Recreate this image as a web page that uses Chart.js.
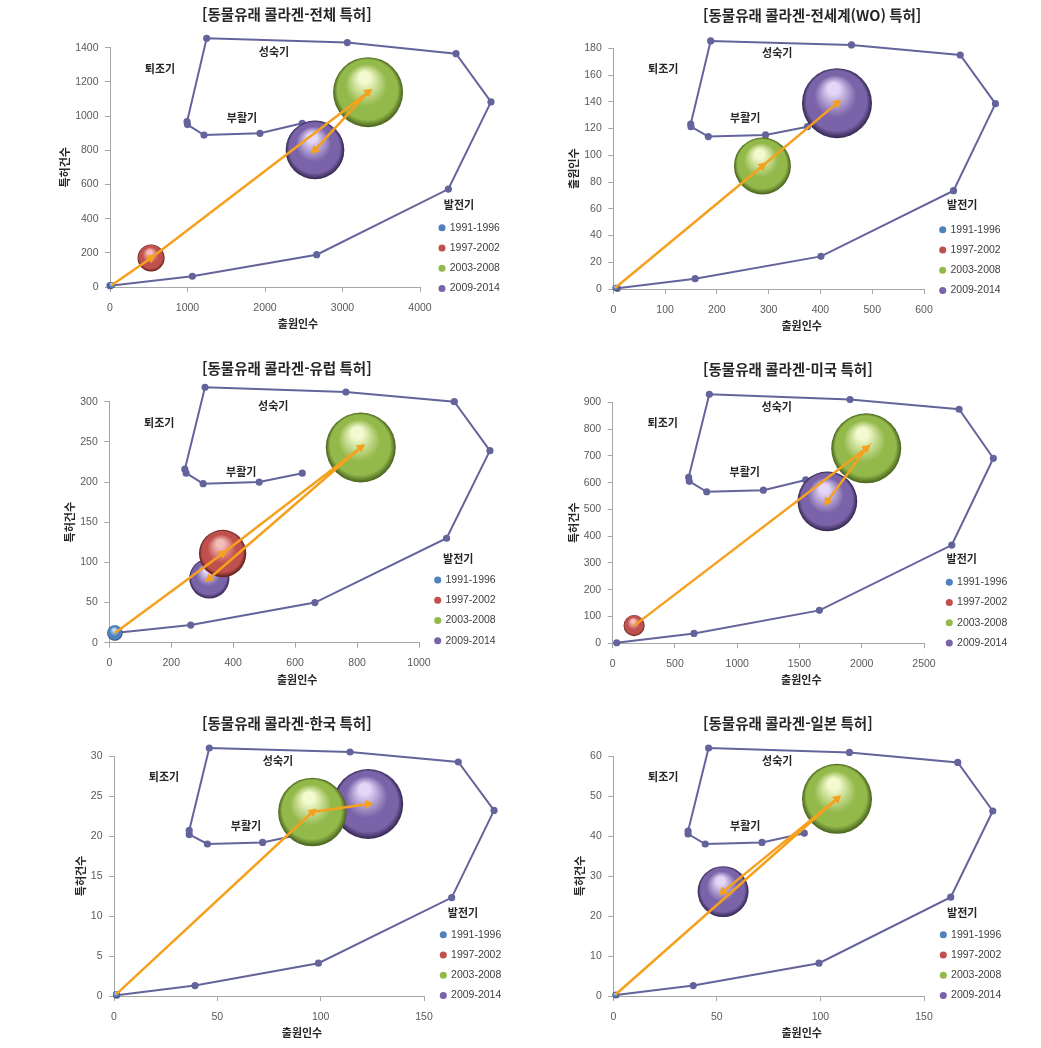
<!DOCTYPE html>
<html lang="ko">
<head>
<meta charset="utf-8">
<title>동물유래 콜라겐 특허 성장단계</title>
<script src="https://cdn.jsdelivr.net/npm/chart.js@4.4.1/dist/chart.umd.min.js"></script>
<style>
  body { margin: 0; background: #fff; }
  #page { position: relative; width: 1041px; height: 1048px; overflow: hidden; }
  .panel { position: absolute; }
</style>
</head>
<body>
<div id="page"></div>
<script>
// --- Data ---
const periods = ['1991-1996', '1997-2002', '2003-2008', '2009-2014'];

// 출원인수 (x) / 특허건수 (y) per period, bubble size follows y
const totalX = [20, 530, 3330, 2645];
const totalY = [10, 170, 1140, 802];
const woX = [4, 0, 288, 432];
const woY = [1, 0, 92, 139];
const euX = [18, 366, 812, 323];
const euY = [12, 111, 243, 80];
const usX = [0, 172, 2036, 1724];
const usY = [0, 66, 728, 530];
const krX = [1, 0, 96, 123];
const krY = [0.2, 0, 23, 24];
const jpX = [1, 0, 108, 53];
const jpY = [0.3, 0, 49.3, 26.1];

// technology life-cycle outline in each panel's units
const totalCycleX = [0, 1062, 2667, 4366, 4916, 4465, 3062, 1247, 994, 1000, 1213, 1935, 2481];
const totalCycleY = [8, 63, 189, 573, 1083, 1365, 1430, 1455, 967, 950, 889, 899, 958];
const woCycleX = [8, 158, 401, 657, 738, 670, 460, 188, 149.5, 150, 183.5, 294, 375];
const woCycleY = [0.5, 7.7, 24.4, 73.5, 138.6, 175, 182.5, 185.5, 123.4, 121.4, 114, 115.2, 121.4];
const euCycleX = [18, 263, 664, 1089, 1229, 1114, 764, 309, 244, 248, 303, 484, 623];
const euCycleY = [12, 22, 50, 130, 239, 300, 312, 318, 216, 211, 198, 200, 211];
const usCycleX = [32, 653, 1660, 2723, 3057, 2782, 1906, 776, 610, 615, 755, 1210, 1550];
const usCycleY = [2, 37, 123, 367, 691, 874, 910, 930, 620, 605, 566, 572, 610];
const krCycleX = [1.3, 39.2, 98.9, 163.4, 183.9, 166.6, 114.2, 46.1, 36.4, 36.4, 45.2, 71.9, 92.4];
const krCycleY = [0.1, 1.3, 4.1, 12.3, 23.2, 29.25, 30.5, 31, 20.7, 20.2, 19, 19.2, 20.3];
const jpCycleX = [1.3, 38.6, 99.3, 162.9, 183.2, 166.3, 114, 46, 36.1, 36.1, 44.4, 71.8, 92.2];
const jpCycleY = [0.25, 2.6, 8.2, 24.7, 46.25, 58.4, 60.9, 62, 41.25, 40.5, 38, 38.4, 40.7];

const stageNames = ['퇴조기', '성숙기', '부활기', '발전기'];

const panels = [
  { title: '[동물유래 콜라겐-전체 특허]', yTitle: '특허건수', x: totalX, y: totalY, cx: totalCycleX, cy: totalCycleY, xMax: 4000, xStep: 1000, yMax: 1400, yStep: 200 },
  { title: '[동물유래 콜라겐-전세계(WO) 특허]', yTitle: '출원인수', x: woX, y: woY, cx: woCycleX, cy: woCycleY, xMax: 600, xStep: 100, yMax: 180, yStep: 20 },
  { title: '[동물유래 콜라겐-유럽 특허]', yTitle: '특허건수', x: euX, y: euY, cx: euCycleX, cy: euCycleY, xMax: 1000, xStep: 200, yMax: 300, yStep: 50 },
  { title: '[동물유래 콜라겐-미국 특허]', yTitle: '특허건수', x: usX, y: usY, cx: usCycleX, cy: usCycleY, xMax: 2500, xStep: 500, yMax: 900, yStep: 100 },
  { title: '[동물유래 콜라겐-한국 특허]', yTitle: '특허건수', x: krX, y: krY, cx: krCycleX, cy: krCycleY, xMax: 150, xStep: 50, yMax: 30, yStep: 5 },
  { title: '[동물유래 콜라겐-일본 특허]', yTitle: '특허건수', x: jpX, y: jpY, cx: jpCycleX, cy: jpCycleY, xMax: 150, xStep: 50, yMax: 60, yStep: 10 }
];

// --- Layout (page pixels) ---
const W = 480, H = 345;
const boxes = [
  { left: 40,  top: 0,   l: 110,   r: 420, t: 47.7,  b: 287,   dotX: 442,   firstY: 227.7, titleX: 202 },
  { left: 540, top: 0,   l: 613.3, r: 924, t: 48.3,  b: 289,   dotX: 942.7, firstY: 229.7, titleX: 703 },
  { left: 40,  top: 350, l: 109.3, r: 419, t: 401.7, b: 642.7, dotX: 437.7, firstY: 580,   titleX: 202 },
  { left: 540, top: 350, l: 612.7, r: 924, t: 402.3, b: 643.3, dotX: 949.3, firstY: 582.3, titleX: 703 },
  { left: 40,  top: 700, l: 114,   r: 424, t: 756,   b: 996,   dotX: 443.3, firstY: 934.7, titleX: 202 },
  { left: 540, top: 700, l: 613.3, r: 924, t: 756,   b: 996,   dotX: 943.3, firstY: 934.7, titleX: 703 }
];
const stageOffsets = [[50, 21], [164, 4.5], [132, 70], [349, 157]];

const KFONT = '"Noto Sans CJK KR", "Noto Sans", sans-serif';
const NFONT = '"Liberation Sans", Arial, sans-serif';
const LEG_FONT = 10.5, LEG_PAD = 9.75, LEG_W = 70;
const R_MAX = 35;
const CYCLE_COLOR = '#64649C';
const ARROW_COLOR = '#F5A11E';
const spheres = [
  { light: '#C4DBF5', base: '#4F81BD', dark: '#1F3B63' },
  { light: '#F5BDBA', base: '#C0504D', dark: '#5A1C1A' },
  { light: '#F4FAD0', base: '#93B94A', dark: '#46601C' },
  { light: '#E3D6F7', base: '#7A63A8', dark: '#33254F' }
];

// 3D-looking bubble fill
const sphereFill = (c) => (ctx) => {
    if (ctx.type !== 'data' || !ctx.raw || !ctx.raw.r) return c.base;
    const { x: sx, y: sy } = ctx.chart.scales;
    if (!sx || !sy) return c.base;
    const px = sx.getPixelForValue(ctx.raw.x);
    const py = sy.getPixelForValue(ctx.raw.y);
    const r = ctx.raw.r;
    if (![px, py, r].every(Number.isFinite)) return c.base;
    const g = ctx.chart.ctx.createRadialGradient(px - r * 0.12, py - r * 0.5, 0, px, py, r);
    g.addColorStop(0, c.light);
    g.addColorStop(0.16, c.light);
    g.addColorStop(0.6, c.base);
    g.addColorStop(0.86, c.base);
    g.addColorStop(1, c.dark);
    return g;
};

// arrow heads follow the segment that ends at each point
const segment = (ctx) => {
    const pts = ctx.dataset.data, i = ctx.dataIndex;
    if (!i) return null;
    const { x: sx, y: sy } = ctx.chart.scales;
    if (!sx || !sy) return null;
    const dx = sx.getPixelForValue(pts[i].x) - sx.getPixelForValue(pts[i - 1].x);
    const dy = sy.getPixelForValue(pts[i].y) - sy.getPixelForValue(pts[i - 1].y);
    if (!Number.isFinite(dx) || !Number.isFinite(dy)) return null;
    return { dx, dy };
};

const panelText = {
    id: 'panelText',
    afterDraw(chart, args, opts) {
        const { ctx, chartArea: a } = chart;
        ctx.save();
        ctx.fillStyle = '#262626';
        ctx.textBaseline = 'middle';

        ctx.font = `bold 14.5px ${KFONT}`;
        ctx.textAlign = 'left';
        ctx.fillText(opts.title, opts.titleX, a.top - 33);

        ctx.font = `bold 11px ${KFONT}`;
        ctx.textAlign = 'center';
        ctx.fillText('출원인수', (a.left + a.right) / 2 + 33, a.bottom + 37);

        // y title sits just left of the widest tick label
        ctx.font = `10.5px ${NFONT}`;
        const widest = Math.max(...chart.scales.y.ticks.map(t => ctx.measureText(String(t.label)).width));
        ctx.font = `bold 11px ${KFONT}`;
        ctx.save();
        ctx.translate(a.left - 11.5 - widest - 10, (a.top + a.bottom) / 2);
        ctx.rotate(-Math.PI / 2);
        ctx.fillText(opts.yTitle, 0, 0);
        ctx.restore();

        stageNames.forEach((name, i) => {
            ctx.fillText(name, a.left + stageOffsets[i][0], a.top + stageOffsets[i][1]);
        });
        ctx.restore();
    }
};

// the outline runs past the axes; let its vertex markers show there too
const showOutside = {
    id: 'showOutside',
    beforeDatasetsDraw(chart) {
        chart.$plotArea = chart.chartArea;
        chart.chartArea = { left: 0, top: 0, right: chart.width, bottom: chart.height, width: chart.width, height: chart.height };
    },
    afterDatasetsDraw(chart) {
        chart.chartArea = chart.$plotArea;
    }
};

const axis = (max, step, pad) => ({
    type: 'linear',
    min: 0,
    max: max,
    ticks: {
        stepSize: step, padding: pad, maxRotation: 0, autoSkip: false,
        format: { useGrouping: false },
        color: '#595959', font: { family: NFONT, size: 10.5 }
    },
    grid: { drawOnChartArea: false, drawTicks: true, tickLength: 5, color: '#A6A6A6' },
    border: { color: '#A6A6A6', width: 1 }
});

const page = document.getElementById('page');

panels.forEach((p, k) => {
    const box = boxes[k];
    const wrap = document.createElement('div');
    wrap.className = 'panel';
    wrap.style.left = box.left + 'px';
    wrap.style.top = box.top + 'px';
    const canvas = document.createElement('canvas');
    canvas.width = W;
    canvas.height = H;
    canvas.style.width = W + 'px';
    canvas.style.height = H + 'px';
    wrap.appendChild(canvas);
    page.appendChild(wrap);

    const gapW = box.dotX - box.r - LEG_PAD - 2.5;
    const padTop = box.t - box.top;
    const padRight = W - (box.r - box.left) - LEG_W - gapW;
    // empty legend title pushes the items down beside the plot bottom
    const legendSpacer = box.firstY - box.t - 10 - LEG_PAD - LEG_FONT / 2;

    const yMaxData = Math.max(...p.y);
    const bubbles = periods.map((label, i) => ({
        type: 'bubble',
        label: label,
        data: [{ x: p.x[i], y: p.y[i], r: p.y[i] > 0 ? R_MAX * Math.sqrt(p.y[i] / yMaxData) : 0 }],
        backgroundColor: sphereFill(spheres[i]),
        borderWidth: 0,
        hoverRadius: 0,
        clip: false,
        order: 1
    }));

    const cycle = {
        type: 'scatter',
        label: 'cycle',
        data: p.cx.map((v, i) => ({ x: v, y: p.cy[i] })),
        showLine: true,
        borderColor: CYCLE_COLOR,
        borderWidth: 2,
        pointRadius: 2.6,
        pointBackgroundColor: CYCLE_COLOR,
        pointBorderColor: CYCLE_COLOR,
        clip: false,
        order: 2
    };

    const path = periods.map((_, i) => i).filter(i => p.y[i] > 0);
    const arrow = {
        type: 'scatter',
        label: 'path',
        data: path.map(i => ({ x: p.x[i], y: p.y[i] })),
        showLine: true,
        borderColor: ARROW_COLOR,
        borderWidth: 2.5,
        pointStyle: 'triangle',
        pointBackgroundColor: ARROW_COLOR,
        pointBorderColor: ARROW_COLOR,
        pointBorderWidth: 1,
        pointRadius: (ctx) => {
            const s = segment(ctx);
            return s && Math.hypot(s.dx, s.dy) > 10 ? 4.5 : 0;
        },
        pointRotation: (ctx) => {
            const s = segment(ctx);
            return s ? Math.atan2(s.dy, s.dx) * 180 / Math.PI + 90 : 0;
        },
        clip: false,
        order: 0
    };

    new Chart(canvas, {
        data: { datasets: [cycle, ...bubbles, arrow] },
        options: {
            responsive: false,
            animation: false,
            events: [],
            layout: { padding: { left: 0, top: padTop, right: padRight, bottom: 0 } },
            scales: {
                x: { ...axis(p.xMax, p.xStep, 9.5), afterFit: (s) => { s.height = H - (box.b - box.top); } },
                y: { ...axis(p.yMax, p.yStep, 6.5), afterFit: (s) => { s.width = box.l - box.left; } },
                gap: {
                    axis: 'y', type: 'linear', position: 'right', display: true,
                    grid: { display: false }, ticks: { display: false }, border: { display: false },
                    afterFit: (s) => { s.width = gapW; }
                }
            },
            plugins: {
                tooltip: { enabled: false },
                legend: {
                    position: 'right',
                    align: 'start',
                    maxWidth: LEG_W,
                    title: { display: true, text: '', padding: { top: legendSpacer, bottom: 0 }, font: { size: 10, lineHeight: 1 } },
                    labels: {
                        usePointStyle: true,
                        boxWidth: 5,
                        boxHeight: 5,
                        padding: LEG_PAD,
                        color: '#404040',
                        font: { family: NFONT, size: LEG_FONT },
                        generateLabels: () => periods.map((label, i) => ({
                            text: label,
                            fillStyle: spheres[i].base,
                            strokeStyle: spheres[i].base,
                            lineWidth: 0,
                            pointStyle: 'circle',
                            fontColor: '#404040',
                            hidden: false,
                            datasetIndex: i + 1
                        }))
                    }
                },
                panelText: { title: p.title, yTitle: p.yTitle, titleX: box.titleX - box.left }
            }
        },
        plugins: [panelText, showOutside]
    });
});
</script>
</body>
</html>
